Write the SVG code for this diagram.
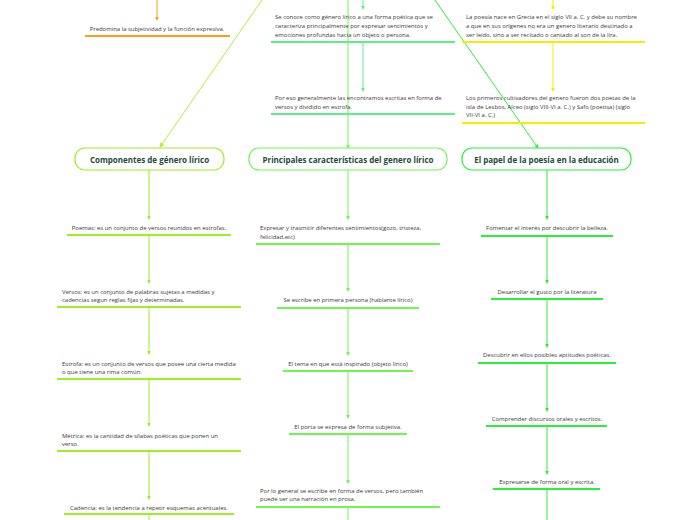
<svg xmlns="http://www.w3.org/2000/svg" width="696" height="520" viewBox="0 0 696 520">
<style>
.t{font-family:"Open Sans","Noto Sans","Liberation Sans",sans-serif;font-size:5.95px;fill:#3a3a3a}
.m{text-anchor:middle}
.n{font-family:"Open Sans","Noto Sans","Liberation Sans",sans-serif;font-size:8px;font-weight:bold;fill:#1e4a3c;text-anchor:middle}
.c{fill:none;stroke-width:1}
.u{fill:none;stroke-width:1.8}
.box{fill:#fff;stroke-width:1.2}
.or{stroke:#f7a01a}.ye{stroke:#f5ec00}.mi{stroke:#5cee8c}.li{stroke:#9eee22}.ld{stroke:#b4ee3c}.gr{stroke:#70f550}.gg{stroke:#2cee3c}
</style>
<defs>
<marker id="aor" viewBox="0 0 6 6" refX="5" refY="3" markerWidth="4" markerHeight="4" markerUnits="userSpaceOnUse" orient="auto"><path d="M0,0L6,3L0,6z" fill="#f7a01a"/></marker>
<marker id="aye" viewBox="0 0 6 6" refX="5" refY="3" markerWidth="4" markerHeight="4" markerUnits="userSpaceOnUse" orient="auto"><path d="M0,0L6,3L0,6z" fill="#f5ec00"/></marker>
<marker id="ami" viewBox="0 0 6 6" refX="5" refY="3" markerWidth="4" markerHeight="4" markerUnits="userSpaceOnUse" orient="auto"><path d="M0,0L6,3L0,6z" fill="#5cee8c"/></marker>
<marker id="ali" viewBox="0 0 6 6" refX="5" refY="3" markerWidth="4" markerHeight="4" markerUnits="userSpaceOnUse" orient="auto"><path d="M0,0L6,3L0,6z" fill="#9eee22"/></marker>
<marker id="ald" viewBox="0 0 6 6" refX="5" refY="3" markerWidth="5" markerHeight="5" markerUnits="userSpaceOnUse" orient="auto"><path d="M0,0L6,3L0,6z" fill="#b4ee3c"/></marker>
<marker id="agr" viewBox="0 0 6 6" refX="5" refY="3" markerWidth="4" markerHeight="4" markerUnits="userSpaceOnUse" orient="auto"><path d="M0,0L6,3L0,6z" fill="#70f550"/></marker>
<marker id="agg" viewBox="0 0 6 6" refX="5" refY="3" markerWidth="4" markerHeight="4" markerUnits="userSpaceOnUse" orient="auto"><path d="M0,0L6,3L0,6z" fill="#2cee3c"/></marker>
</defs>
<rect width="696" height="520" fill="#fff"/>

<g id="connectors">
<path class="c or" d="M157,0V20" marker-end="url(#aor)"/>
<path class="c ld" d="M262,0L160,147" marker-end="url(#ald)"/>
<path class="c mi" d="M363,0V9" marker-end="url(#ami)"/>
<path class="c mi" d="M363,42V91" marker-end="url(#ami)"/>
<path class="c ye" d="M553,0V9" marker-end="url(#aye)"/>
<path class="c ye" d="M553,42V91" marker-end="url(#aye)"/>
<path class="c gr" d="M348,0V148" marker-end="url(#agr)"/>
<path class="c gg" d="M435,0L538,148" marker-end="url(#agg)"/>
<path class="c li" d="M149,170V219" marker-end="url(#ali)"/>
<path class="c li" d="M149,235V283" marker-end="url(#ali)"/>
<path class="c li" d="M149,307V354" marker-end="url(#ali)"/>
<path class="c li" d="M149,379V426" marker-end="url(#ali)"/>
<path class="c li" d="M149,451V499" marker-end="url(#ali)"/>
<path class="c li" d="M149,514V520"/>
<path class="c gr" d="M348,170V219" marker-end="url(#agr)"/>
<path class="c gr" d="M348,244V291" marker-end="url(#agr)"/>
<path class="c gr" d="M348,308V355" marker-end="url(#agr)"/>
<path class="c gr" d="M348,371V418" marker-end="url(#agr)"/>
<path class="c gr" d="M348,434V483" marker-end="url(#agr)"/>
<path class="c gr" d="M348,507V520"/>
<path class="c gg" d="M547,170V219" marker-end="url(#agg)"/>
<path class="c gg" d="M547,236V283" marker-end="url(#agg)"/>
<path class="c gg" d="M547,299V347" marker-end="url(#agg)"/>
<path class="c gg" d="M547,363V411" marker-end="url(#agg)"/>
<path class="c gg" d="M547,426V474" marker-end="url(#agg)"/>
<path class="c gg" d="M547,489V520"/>
</g>

<g id="predomina">
<text class="t m" x="157" y="31">Predomina la subjetividad y la función expresiva.</text>
<path class="u or" d="M85,36H230"/>
</g>

<g id="se-conoce">
<text class="t" x="275" y="19">Se conoce como género lírico a una forma poética  que se</text>
<text class="t" x="275" y="28">caracteriza principalmente por expresar sentimientos y</text>
<text class="t" x="275" y="37">emociones profundas hacia un objeto o persona.</text>
<path class="u mi" d="M271,42H455"/>
</g>
<g id="por-eso">
<text class="t" x="275" y="100">Por eso generalmente las encontramos escritas en forma de</text>
<text class="t" x="275" y="109">versos y dividido en estrofa.</text>
<path class="u mi" d="M271,114H455"/>
</g>

<g id="grecia">
<text class="t" x="466" y="19">La poesía nace en Grecia en el siglo VII a. C. y debe su nombre</text>
<text class="t" x="466" y="28">a que en sus orígenes no era un genero literario destinado a</text>
<text class="t" x="466" y="37">ser leído, sino a ser recitado o cantado al son de la lira.</text>
<path class="u ye" d="M462,42H645"/>
</g>
<g id="cultivadores">
<text class="t" x="466" y="100">Los primeros cultivadores del genero fueron dos poetas de la</text>
<text class="t" x="466" y="109">isla de Lesbos, Alceo (siglo VIII-VI a. C.) y Safo (poetisa) (siglo</text>
<text class="t" x="466" y="117">VII-VI a. C.)</text>
<path class="u ye" d="M462,123H645"/>
</g>

<g id="componentes">
<rect class="box li" x="75" y="148" width="149" height="22" rx="10"/>
<text class="n" x="149.5" y="162.5">Componentes de género lírico</text>
</g>
<g id="principales">
<rect class="box gr" x="249" y="148" width="198" height="22" rx="10"/>
<text class="n" x="348" y="162.5">Principales características del genero lírico</text>
</g>
<g id="papel">
<rect class="box gg" x="462" y="148" width="169" height="22" rx="10"/>
<text class="n" x="546.5" y="162.5">El papel de la poesía en la educación</text>
</g>

<g id="poemas">
<text class="t m" x="149" y="230">Poemas: es un conjunto de versos reunidos en estrofas.</text>
<path class="u li" d="M67,235H231"/>
</g>
<g id="versos">
<text class="t" x="62" y="294">Versos: es un conjunto de palabras sujetas a medidas y</text>
<text class="t" x="62" y="302">cadencias segun reglas fijas y determinadas.</text>
<path class="u li" d="M57,307H241"/>
</g>
<g id="estrofa">
<text class="t" x="62" y="366">Estrofa: es un conjunto de versos que posee una cierta medida</text>
<text class="t" x="62" y="374">o que tiene una rima común.</text>
<path class="u li" d="M57,379H241"/>
</g>
<g id="metrica">
<text class="t" x="62" y="438">Métrica: es la cantidad de sílabas poéticas que ponen un</text>
<text class="t" x="62" y="446">verso.</text>
<path class="u li" d="M57,451H241"/>
</g>
<g id="cadencia">
<text class="t m" x="149" y="510">Cadencia: es la tendencia a repetir esquemas acentuales.</text>
<path class="u li" d="M64,514H234"/>
</g>

<g id="expresar">
<text class="t" x="260" y="230">Expresar y trasmitir diferentes sentimientos(gozo, tristeza,</text>
<text class="t" x="260" y="239">felicidad,etc)</text>
<path class="u gr" d="M256,244H440"/>
</g>
<g id="primera-persona">
<text class="t m" x="348" y="302">Se escribe en primera persona (hablante lírico)</text>
<path class="u gr" d="M277,308H419"/>
</g>
<g id="tema">
<text class="t m" x="348" y="366">El tema en que está inspirado (objeto lírico)</text>
<path class="u gr" d="M283,371H413"/>
</g>
<g id="porta">
<text class="t m" x="348" y="429">El porta se expresa de forma subjetiva.</text>
<path class="u gr" d="M289,434H407"/>
</g>
<g id="por-lo-general">
<text class="t" x="260" y="493">Por lo general se escribe en forma de versos, pero también</text>
<text class="t" x="260" y="501">puede ser una narración en prosa.</text>
<path class="u gr" d="M256,507H440"/>
</g>

<g id="fomentar">
<text class="t m" x="547" y="230">Fomentar el interés por descubrir la belleza.</text>
<path class="u gg" d="M481,236H613"/>
</g>
<g id="desarrollar">
<text class="t m" x="547" y="294">Desarrollar el gusto por la literatura</text>
<path class="u gg" d="M491,299H603"/>
</g>
<g id="descubrir">
<text class="t m" x="547" y="357">Descubrir en ellos posibles aptitudes poéticas.</text>
<path class="u gg" d="M478,363H616"/>
</g>
<g id="comprender">
<text class="t m" x="547" y="421">Comprender discursos orales y escritos.</text>
<path class="u gg" d="M486,426H607"/>
</g>
<g id="expresarse">
<text class="t m" x="547" y="484">Expresarse de forma oral y escrita.</text>
<path class="u gg" d="M493,489H600"/>
</g>
</svg>
